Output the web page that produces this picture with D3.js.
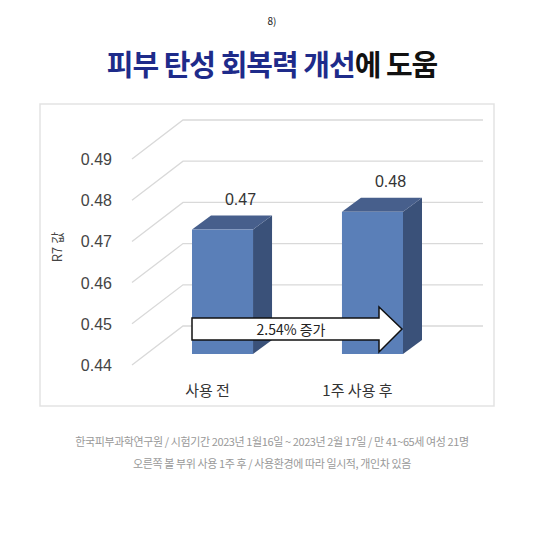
<!DOCTYPE html>
<html><head><meta charset="utf-8">
<script src="https://cdn.jsdelivr.net/npm/d3@7"></script>
<style>
body{margin:0;background:#fff;font-family:"Noto Sans CJK KR","Noto Sans",sans-serif;}
</style></head>
<body>
<script>
var categories = ['사용 전', '1주 사용 후'];
var values = [0.4702, 0.4745];
var valueLabels = ['0.47', '0.48'];
var ticks = [0.44, 0.45, 0.46, 0.47, 0.48, 0.49];
var arrowText = '2.54% 증가';

var svg = d3.select('body').append('svg').attr('width', 545).attr('height', 546);

// heading
svg.append('text').attr('x', 272).attr('y', 25).attr('text-anchor', 'middle')
  .attr('font-size', 10).attr('fill', '#222').text('8)');
var title = svg.append('text').attr('x', 272).attr('y', 76).attr('text-anchor', 'middle')
  .attr('font-size', 29).attr('font-weight', 700).attr('letter-spacing', -1);
title.append('tspan').attr('fill', '#1e2b8a').text('피부 탄성 회복력 개선');
title.append('tspan').attr('fill', '#111').text('에 도움');

// chart frame
svg.append('rect').attr('x', 40).attr('y', 104).attr('width', 454).attr('height', 302)
  .attr('fill', '#fff').attr('stroke', '#e3e3e3').attr('stroke-width', 1.5);

var y = d3.scaleLinear().domain([0.44, 0.49]).range([365, 159]);
var depth = {dx: 51, dy: -39};
var x0 = 132, xEnd = 483;

// grid: floor/back wall lines
ticks.forEach(function(t){
  var yy = y(t);
  svg.append('polyline')
    .attr('points', [[x0, yy], [x0 + depth.dx, yy + depth.dy], [xEnd, yy + depth.dy]].join(' '))
    .attr('fill', 'none').attr('stroke', '#d9d9d9').attr('stroke-width', 1.3);
});

svg.append('g').selectAll('text').data(ticks).join('text')
  .attr('x', 112).attr('y', function(d){ return y(d) + 6; })
  .attr('text-anchor', 'end').attr('font-family', 'Liberation Sans, Arial')
  .attr('font-size', 16).attr('fill', '#444').text(function(d){ return d.toFixed(2); });

svg.append('text').attr('transform', 'translate(62,247) rotate(-90)')
  .attr('text-anchor', 'middle').attr('font-size', 13).attr('fill', '#444').text('R7 값');

// bars
var xb = d3.scaleBand().domain(categories).range([179, 390]).paddingInner(0.593).paddingOuter(0);
var bd = {dx: 19, dy: -14}, shift = {dx: 13, dy: -11};
var bars = svg.append('g').selectAll('g').data(values).join('g');
bars.each(function(v, i){
  var g = d3.select(this);
  var x = xb(categories[i]) + shift.dx, w = xb.bandwidth();
  var top = y(v) + shift.dy, bot = y(0.44) + shift.dy;
  g.append('polygon').attr('points', [[x + w, top], [x + w + bd.dx, top + bd.dy], [x + w + bd.dx, bot + bd.dy], [x + w, bot]].join(' '))
    .attr('fill', '#3a5179');
  g.append('polygon').attr('points', [[x, top], [x + bd.dx, top + bd.dy], [x + w + bd.dx, top + bd.dy], [x + w, top]].join(' '))
    .attr('fill', '#475f8c');
  g.append('rect').attr('x', x).attr('y', top).attr('width', w).attr('height', bot - top)
    .attr('fill', '#5a7fb8');
  g.append('text').attr('x', x + w / 2 + 18).attr('y', top - 25).attr('text-anchor', 'middle')
    .attr('font-family', 'Liberation Sans, Arial').attr('font-size', 16).attr('fill', '#333')
    .text(valueLabels[i]);
  g.append('text').attr('x', x + w / 2 - 15).attr('y', 396).attr('text-anchor', 'middle')
    .attr('font-size', 15).attr('fill', '#333').text(categories[i]);
});

// arrow
var ax1 = xb(categories[0]) + shift.dx, ax2 = xb(categories[1]) + shift.dx + xb.bandwidth() - 1;
var ay1 = 318, ay2 = 340, headX = ax2 - 23;
svg.append('polygon')
  .attr('points', [[ax1, ay1], [headX, ay1], [headX, 307], [ax2, 329], [headX, 352], [headX, ay2], [ax1, ay2]].join(' '))
  .attr('fill', '#fff').attr('stroke', '#111').attr('stroke-width', 1.5);
svg.append('text').attr('x', 291).attr('y', 335).attr('text-anchor', 'middle')
  .attr('font-size', 14).attr('fill', '#222').text(arrowText);

// footnote
var notes = ['한국피부과학연구원 / 시험기간 2023년 1월16일 ~ 2023년 2월 17일 / 만 41~65세 여성 21명',
  '오른쪽 볼 부위 사용 1주 후  / 사용환경에 따라 일시적, 개인차 있음'];
svg.append('g').selectAll('text').data(notes).join('text')
  .attr('x', 272).attr('y', function(d, i){ return 446 + i * 22; }).attr('text-anchor', 'middle')
  .attr('font-size', 11).attr('letter-spacing', -0.4).attr('fill', '#999').text(function(d){ return d; });
</script>
</body></html>
